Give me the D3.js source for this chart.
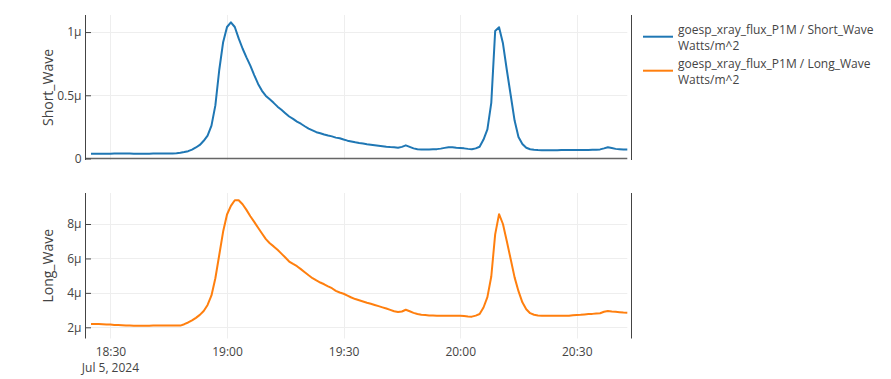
<!DOCTYPE html>
<html>
<head>
<meta charset="utf-8">
<script src="https://cdn.jsdelivr.net/npm/d3@7"></script>
<style>
  html, body { margin: 0; padding: 0; background: #fff; }
  svg { display: block; font-family: "Open Sans", "Noto Sans", sans-serif; }
</style>
</head>
<body>
<svg id="chart" width="891" height="379"></svg>
<script>
// ---- Data (1-minute cadence, values in micro-W/m^2) ----
const startTime = "2024-07-05T18:25:00Z";
const shortWave = [
  0.038,0.038,0.038,0.038,0.038,0.038,0.039,0.039,0.039,0.039,0.039,0.038,0.038,0.038,0.038,0.038,0.039,0.039,0.039,0.039,0.039,
  0.039,0.041,0.045,0.051,0.058,0.070,0.087,0.107,0.140,0.180,0.260,0.420,0.700,0.920,1.040,1.077,1.040,0.950,0.870,0.800,
  0.735,0.660,0.590,0.535,0.495,0.468,0.440,0.410,0.385,0.358,0.332,0.313,0.292,0.275,0.255,0.236,0.222,0.208,0.200,0.190,
  0.182,0.175,0.165,0.160,0.150,0.141,0.135,0.128,0.122,0.118,0.113,0.109,0.105,0.101,0.097,0.093,0.090,0.088,0.085,0.092,
  0.104,0.092,0.080,0.073,0.072,0.072,0.072,0.073,0.074,0.078,0.084,0.089,0.088,0.085,0.083,0.080,0.076,0.073,0.080,0.093,
  0.150,0.230,0.440,1.009,1.038,0.911,0.700,0.500,0.300,0.170,0.115,0.085,0.073,0.069,0.067,
  0.066,0.066,0.066,0.066,0.066,0.067,0.067,0.067,0.067,0.067,0.068,0.068,0.068,0.069,0.069,
  0.072,0.080,0.089,0.083,0.076,0.074,0.072,0.072
];
const longWave = [
  2.19,2.19,2.19,2.18,2.17,2.16,2.14,2.13,2.12,2.11,2.10,
  2.09,2.09,2.09,2.09,2.09,2.10,2.10,2.10,2.10,2.10,2.10,2.10,
  2.10,2.18,2.28,2.40,2.55,2.72,2.95,3.30,3.85,4.85,6.20,7.56,8.55,9.05,9.38,9.38,9.15,8.82,
  8.45,8.12,7.78,7.45,7.12,6.88,6.70,6.50,6.28,6.05,5.82,5.68,5.55,5.38,5.20,5.02,4.85,4.72,4.60,4.50,
  4.38,4.27,4.12,4.02,3.95,3.84,3.73,3.64,3.57,3.50,3.43,3.37,3.30,3.23,3.16,3.09,3.01,2.93,2.89,2.92,
  3.02,2.93,2.84,2.77,2.73,2.71,2.69,2.68,2.67,
  2.67,2.67,2.67,2.67,2.67,2.67,2.65,2.63,2.62,2.68,2.77,3.15,3.75,4.95,7.40,8.57,8.00,7.00,5.95,4.90,
  4.10,3.45,3.05,2.82,2.73,2.69,
  2.67,2.67,2.67,2.67,2.67,2.67,2.67,2.67,2.70,2.72,2.73,2.75,2.77,2.78,2.80,
  2.82,2.90,2.95,2.92,2.90,2.88,2.86,2.85
];
const xTickTimes = ["2024-07-05T18:30:00Z","2024-07-05T19:00:00Z","2024-07-05T19:30:00Z","2024-07-05T20:00:00Z","2024-07-05T20:30:00Z"];
const xTickLabels = ["18:30","19:00","19:30","20:00","20:30"];
const xSubLabel = "Jul 5, 2024";
const shortTicks = [0, 0.5, 1];
const shortTickLabels = ["0","0.5μ","1μ"];
const longTicks = [2, 4, 6, 8];
const longTickLabels = ["2μ","4μ","6μ","8μ"];
const seriesNames = ["goesp_xray_flux_P1M / Short_Wave", "goesp_xray_flux_P1M / Long_Wave"];
const seriesUnits = ["Watts/m^2", "Watts/m^2"];
const seriesColors = ["#1f77b4", "#ff7f0e"];
const panelTitles = ["Short_Wave", "Long_Wave"];

// ---- Layout ----
const svg = d3.select("#chart");
const t0 = new Date(startTime);
const times = shortWave.map((_, i) => new Date(t0.getTime() + i * 60000));
const x = d3.scaleUtc().domain([t0, times[times.length - 1]]).range([91, 627.3]);
const plotL = 85.5, plotR = 627.3, axisR = 631.5;

const panels = [
  { values: shortWave, y: d3.scaleLinear().domain([-0.012, 1.135]).range([160, 15]),
    top: 15, bottom: 160, ticks: shortTicks, labels: shortTickLabels, zero: true },
  { values: longWave, y: d3.scaleLinear().domain([1.35, 9.8]).range([338.5, 193]),
    top: 193, bottom: 338.5, ticks: longTicks, labels: longTickLabels, zero: false }
];

panels.forEach((p, pi) => {
  const g = svg.append("g");
  // vertical grid
  g.selectAll(".vg").data(xTickTimes).join("line")
    .attr("x1", d => Math.round(x(new Date(d))) + 0.5).attr("x2", d => Math.round(x(new Date(d))) + 0.5)
    .attr("y1", p.top).attr("y2", p.bottom)
    .attr("stroke", "#eee").attr("stroke-width", 1);
  // horizontal grid
  g.selectAll(".hg").data(p.ticks.filter(v => !(p.zero && v === 0))).join("line")
    .attr("x1", 91).attr("x2", plotR)
    .attr("y1", d => Math.round(p.y(d)) + 0.5).attr("y2", d => Math.round(p.y(d)) + 0.5)
    .attr("stroke", "#eee").attr("stroke-width", 1);
  // zero line
  if (p.zero) {
    g.append("line").attr("x1", plotL).attr("x2", plotR)
      .attr("y1", p.y(0)).attr("y2", p.y(0))
      .attr("stroke", "#666").attr("stroke-width", 1.5);
  }
  // y axis (labels + inward ticks)
  const ax = d3.axisLeft(p.y).tickValues(p.ticks)
    .tickFormat((d, i) => p.labels[i]).tickSize(-5.5).tickPadding(4);
  const ag = g.append("g").attr("transform", `translate(${plotL},0)`).call(ax);
  ag.select(".domain").remove();
  ag.selectAll(".tick line").attr("stroke", "#444");
  ag.selectAll(".tick text").attr("fill", "#444").style("font-size", "12px")
    .style("font-family", "'Open Sans', sans-serif");
  // axis lines
  g.append("line").attr("x1", plotL).attr("x2", plotL).attr("y1", p.top).attr("y2", p.bottom)
    .attr("stroke", "#444").attr("stroke-width", 1);
  g.append("line").attr("x1", axisR).attr("x2", axisR).attr("y1", p.top).attr("y2", p.bottom)
    .attr("stroke", "#444").attr("stroke-width", 1);
  // title
  g.append("text")
    .attr("transform", `translate(53,${(p.top + p.bottom) / 2}) rotate(-90)`)
    .attr("text-anchor", "middle").attr("fill", "#444")
    .style("font-size", "14px").text(panelTitles[pi]);
  // line
  const line = d3.line().x((d, i) => x(times[i])).y(d => p.y(d));
  g.append("path").datum(p.values).attr("d", line)
    .attr("fill", "none").attr("stroke", seriesColors[pi]).attr("stroke-width", 2)
    .attr("stroke-linejoin", "round");
});

// x axis labels
const xa = d3.axisBottom(x).tickValues(xTickTimes.map(d => new Date(d)))
  .tickFormat((d, i) => xTickLabels[i]).tickSize(0).tickPadding(9);
const xg = svg.append("g").attr("transform", "translate(0,338.5)").call(xa);
xg.select(".domain").remove();
xg.selectAll(".tick text").attr("fill", "#444").style("font-size", "12px")
  .style("font-family", "'Open Sans', sans-serif");
svg.append("text").attr("x", x(new Date(xTickTimes[0]))).attr("y", 371.5)
  .attr("text-anchor", "middle").attr("fill", "#444").style("font-size", "12px").text(xSubLabel);

// legend
const leg = svg.append("g");
seriesNames.forEach((name, i) => {
  const y0 = 36.7 + i * 34;
  leg.append("line").attr("x1", 643).attr("x2", 673).attr("y1", y0).attr("y2", y0)
    .attr("stroke", seriesColors[i]).attr("stroke-width", 2);
  leg.append("text").attr("x", 678).attr("y", y0 - 2.5).attr("fill", "#444")
    .style("font-size", "12px").text(name);
  leg.append("text").attr("x", 678).attr("y", y0 + 13).attr("fill", "#444")
    .style("font-size", "12px").text(seriesUnits[i]);
});
</script>
</body>
</html>
